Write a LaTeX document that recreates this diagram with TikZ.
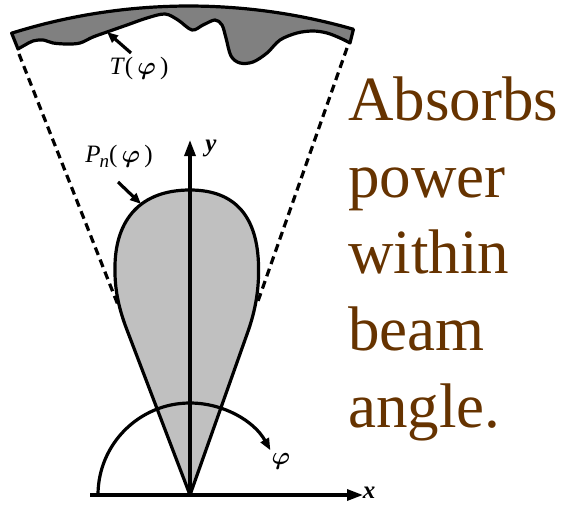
\documentclass[tikz,border=0pt]{standalone}
\usepackage{fontspec}
\setmainfont{Liberation Serif}
\usepackage{bm}
\usetikzlibrary{arrows.meta}
\definecolor{brownT}{RGB}{102,51,0}
\definecolor{bandgray}{RGB}{128,128,128}
\definecolor{lobegray}{RGB}{192,192,192}
\tikzset{
  outline/.style={line width=3.2pt, line join=round},
  axisarrow/.style={line width=3.2pt, -{Triangle[length=16pt,width=11pt]}},
  labarrow/.style={line width=3.2pt, -{Triangle[length=11pt,width=9pt]}},
  beamedge/.style={line width=3.2pt, dash pattern=on 8pt off 5pt},
  lab/.style={inner sep=0pt, font=\fontsize{25}{29}\selectfont},
  sidetext/.style={inner sep=0pt, anchor=base west, text=brownT, font=\fontsize{63}{70}\selectfont}
}
\begin{document}
\begin{tikzpicture}[x=1pt,y=-1pt]
\useasboundingbox (0,0) rectangle (564,506);
% coordinates
\coordinate (O) at (190,495);
\coordinate (bandL) at (19,54);
\coordinate (bandR) at (347,48);
\coordinate (lobeL) at (118,305);
\coordinate (lobeR) at (257,304);
% band with brightness temperature
\filldraw[outline, fill=bandgray]
  plot[domain=107.4:73.9, samples=60] ({189+593*cos(\x)},{599-593*sin(\x)})
  -- plot[smooth, tension=0.55] coordinates {(350,43) (340,38) (327,33) (313,31) (297,33) (280,40) (267,53) (253,62) (240,63) (231,56) (226,38) (222,25) (215,20) (203,25) (192,30) (178,20) (165,14) (147,18) (127,25) (107,32) (93,37) (80,43) (67,44) (53,43) (43,40) (33,41) (25,45) (18,49)}
  -- cycle;
% beam edges
\draw[beamedge] (bandL) -- (lobeL);
\draw[beamedge] (bandR) -- (lobeR);
% lobe
\filldraw[outline, fill=lobegray] (O) -- (127,330)
  .. controls (117,304) and (114.5,285) .. (115,265)
  .. controls (116,220) and (140,190) .. (190,190)
  .. controls (238,190) and (257.4,220) .. (258.5,265)
  .. controls (259,285) and (257,305) .. (248.5,330)
  -- cycle;
% axes
\coordinate (xs) at (90,495);
\coordinate (xe) at (363,495);
\coordinate (ye) at (190,140);
\draw[axisarrow] (xs) -- (xe);
\draw[axisarrow] (O) -- (ye);
% angle arc
\coordinate (arcS) at (98,495);
\draw[line width=3.2pt, -{Triangle[length=12pt,width=9pt]}] (arcS) arc[start angle=180, end angle=331, radius=92];
% labels
\node[lab] (phi) at (281,461) {$\bm{\varphi}$};
\node[lab] (xl) at (369,493) {\textbf{\textit{x}}};
\node[lab] (yl) at (211,148) {\textbf{\textit{y}}};
\node[lab] (Tl) at (139,68) {\textit{T}(\,$\bm{\varphi}$\,)};
\node[lab] (Pl) at (119,156) {\textit{P}\kern-1pt\raisebox{-5pt}{\fontsize{19}{19}\selectfont\textit{n}}(\,$\bm{\varphi}$\,)};
\coordinate (Ttail) at (131,53);
\coordinate (Ttip) at (107,32);
\coordinate (Ptail) at (118,182);
\coordinate (Ptip) at (141,204);
\draw[labarrow] (Ttail) -- (Ttip);
\draw[labarrow] (Ptail) -- (Ptip);
% side text
\node[sidetext] (t1) at (348,120) {Absorbs};
\node[sidetext] (t2) at (348,197) {power};
\node[sidetext] (t3) at (348,273) {within};
\node[sidetext] (t4) at (348,350) {beam};
\node[sidetext] (t5) at (348,427) {angle.};
\end{tikzpicture}
\end{document}
